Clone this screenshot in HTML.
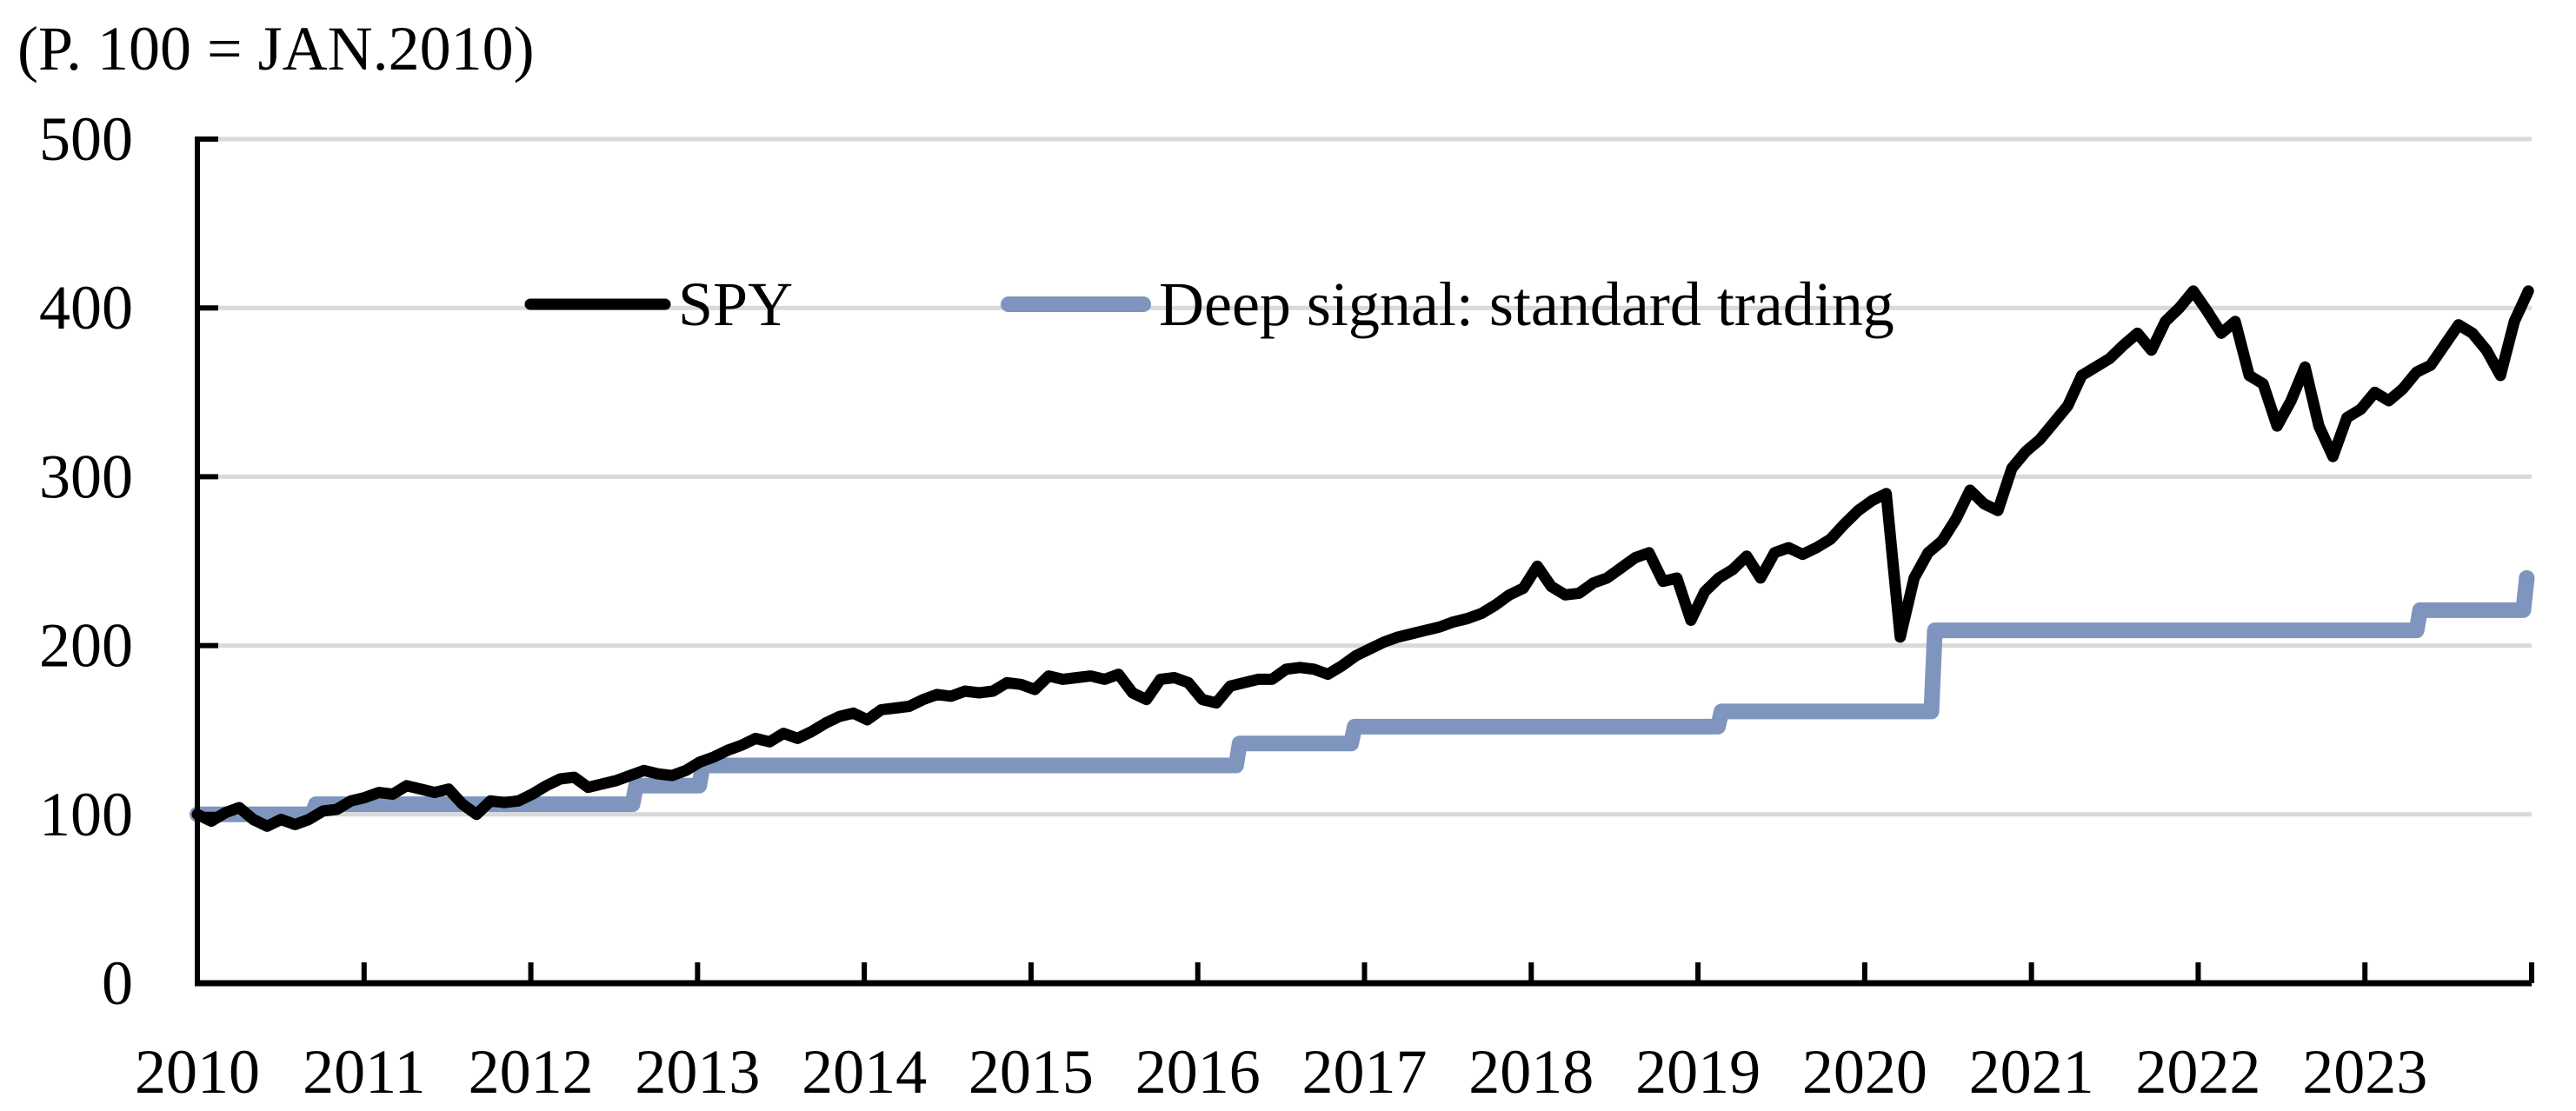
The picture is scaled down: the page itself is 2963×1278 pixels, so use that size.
<!DOCTYPE html>
<html><head><meta charset="utf-8"><style>
html,body{margin:0;padding:0;background:#fff;}
svg{display:block;font-family:"Liberation Serif",serif;}
</style></head><body>
<svg id="chart" width="2963" height="1278" viewBox="0 0 2963 1278" xmlns="http://www.w3.org/2000/svg">
<text x="20" y="80" font-size="72">(P. 100 = JAN.2010)</text>
<g id="grid"></g><g id="series"></g><g id="axes"></g>
<g>
<line x1="610" y1="350" x2="765" y2="350" stroke="#000" stroke-width="13" stroke-linecap="round"/>
<text x="780" y="374" font-size="72">SPY</text>
<line x1="1160" y1="350" x2="1315" y2="350" stroke="#7f95be" stroke-width="18" stroke-linecap="round"/>
<text x="1333" y="374" font-size="72">Deep signal: standard trading</text>
</g>
</svg>
<script>
const yTicks=[0,100,200,300,400,500];
const xYears=[2010,2011,2012,2013,2014,2015,2016,2017,2018,2019,2020,2021,2022,2023];
const spyStart=2010;
const spy2010=[100,96,101,104,97,93,97,94,97,102,103,108];
const spy2011=[110,113,112,117,115,113,115,106,100,108,107,108];
const spy2012=[112,117,121,122,116,118,120,123,126,124,123,126];
const spy2013=[131,134,138,141,145,143,148,145,149,154,158,160];
const spy2014=[156,162,163,164,168,171,170,173,172,173,178,177];
const spy2015=[174,182,180,181,182,180,183,172,168,180,181,178];
const spy2016=[168,166,176,178,180,180,186,187,186,183,188,194];
const spy2017=[198,202,205,207,209,211,214,216,219,224,230,234];
const spy2018=[247,235,230,231,237,240,246,252,255,238,240,215];
const spy2019=[232,240,245,253,240,255,258,254,258,263,272,280];
const spy2020=[286,290,205,240,255,262,275,292,284,280,305,315];
const spy2021=[322,332,342,360,365,370,378,385,375,392,400,410];
const spy2022=[398,385,392,360,355,330,345,365,330,312,335,340];
const spy2023=[350,345,352,362,366,378,390,385,375,360,392,410];
const stepDates=[2010.69,2012.61,2013.01,2016.23,2016.92,2019.12,2020.40,2023.31,2023.95];
const stepValues=[106,117,129,142,152,161,209,221,240];
const deepStart=100;
const deepEnd=2023.97;

const X0=227,X1=2912,Y0=1131,Y1=160;
const xScale=t=>X0+(t-2010)/14*(X1-X0);
const yScale=v=>Y0-v/500*(Y0-Y1);
const NS="http://www.w3.org/2000/svg";
function mk(tag,attrs,parent){const e=document.createElementNS(NS,tag);for(const k in attrs)e.setAttribute(k,attrs[k]);parent.appendChild(e);return e;}
const grid=document.getElementById('grid'),axes=document.getElementById('axes'),series=document.getElementById('series');

yTicks.forEach(v=>{
  if(v>0){const g=mk('line',{x1:X0,x2:X1,y1:yScale(v),y2:yScale(v),stroke:'#d9d9d9','stroke-width':5},grid);
  
  }
  const t=mk('line',{x1:X0,x2:X0+24,y1:yScale(v),y2:yScale(v),stroke:'#000','stroke-width':6},axes);
  
  
  const l=mk('text',{x:153,y:yScale(v)+24,'font-size':72,'text-anchor':'end'},axes);l.textContent=v;
  
  
});
xYears.concat([2024]).forEach(yr=>{
  const t=mk('line',{x1:xScale(yr),x2:xScale(yr),y1:Y0,y2:Y0-24,stroke:'#000','stroke-width':6},axes);
  
  
});
xYears.forEach(yr=>{
  const l=mk('text',{x:xScale(yr),y:1257,'font-size':72,'text-anchor':'middle'},axes);l.textContent=yr;
  
  
});
const ya=mk('line',{x1:X0,x2:X0,y1:Y1-3,y2:Y0+3,stroke:'#000','stroke-width':6},axes);


const xa=mk('line',{x1:X0-3,x2:X1,y1:Y0,y2:Y0,stroke:'#000','stroke-width':7},axes);



let d='M'+xScale(2010)+','+yScale(deepStart);
stepDates.forEach((t,i)=>{d+=' L'+xScale(t)+','+yScale(i?stepValues[i-1]:deepStart)+' L'+(xScale(t)+4)+','+yScale(stepValues[i]);});
d+=' L'+xScale(deepEnd)+','+yScale(stepValues[stepValues.length-1]);
const bl=mk('path',{d:d,fill:'none',stroke:'#7f95be','stroke-width':18,'stroke-linejoin':'round','stroke-linecap':'round'},series);



const spyAll=[].concat(spy2010,spy2011,spy2012,spy2013,spy2014,spy2015,spy2016,spy2017,spy2018,spy2019,spy2020,spy2021,spy2022,spy2023);
const n=spyAll.length;
let p='';
spyAll.forEach((v,i)=>{const t=spyStart+i/(n-1)*13.98;p+=(i?' L':'M')+xScale(t).toFixed(1)+','+yScale(v).toFixed(1);});
const sl=mk('path',{d:p,fill:'none',stroke:'#000','stroke-width':13,'stroke-linejoin':'round','stroke-linecap':'round'},series);


</script>
</body></html>
